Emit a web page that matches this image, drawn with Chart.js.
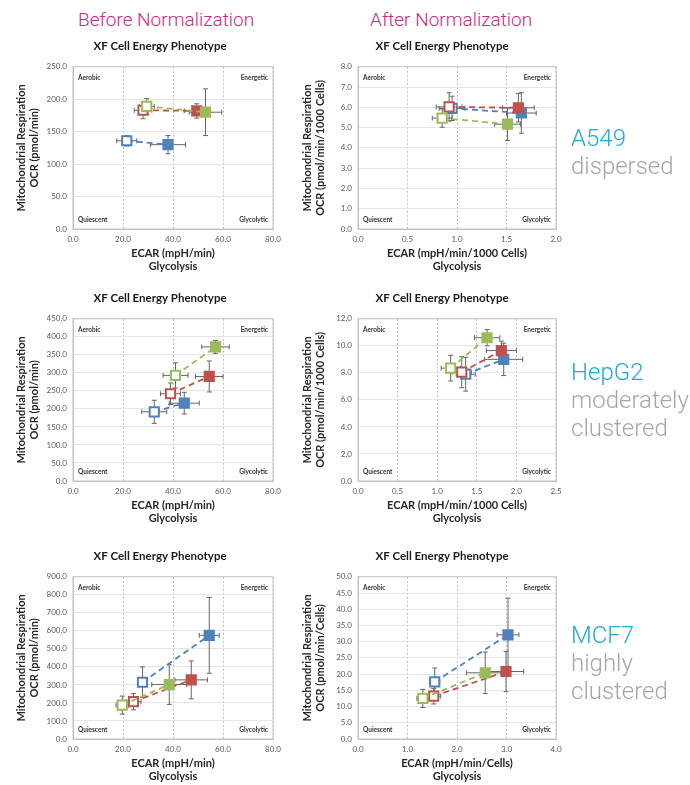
<!DOCTYPE html>
<html lang="en">
<head>
<meta charset="UTF-8">
<title>XF Cell Energy Phenotype</title>
<script src="https://cdn.jsdelivr.net/npm/chart.js@4.4.1/dist/chart.umd.min.js"></script>
<style>
    body { margin: 0; background: #fff; width: 690px; height: 785px; position: relative; overflow: hidden; font-family: Roboto, "Open Sans", sans-serif; }
    .panel { position: absolute; width: 290px; height: 239px; }
    .head { position: absolute; top: 8px; font-size: 19px; line-height: 23px; font-weight: 300; color: #d6247e; white-space: nowrap; }
    .cell { position: absolute; left: 571px; font-size: 24px; line-height: 28px; font-weight: 300; color: #a6a6a6; white-space: nowrap; }
    .cell .name { color: #1ea8e0; }
</style>
</head>
<body>
    <div class="head" style="left:78px">Before Normalization</div>
    <div class="head" style="left:370px">After Normalization</div>

    <div class="panel" style="left:0;top:35px"><canvas id="a549Before"></canvas></div>
    <div class="panel" style="left:285px;top:35px"><canvas id="a549After"></canvas></div>
    <div class="panel" style="left:0;top:287px"><canvas id="hepg2Before"></canvas></div>
    <div class="panel" style="left:285px;top:287px"><canvas id="hepg2After"></canvas></div>
    <div class="panel" style="left:0;top:545px"><canvas id="mcf7Before"></canvas></div>
    <div class="panel" style="left:285px;top:545px"><canvas id="mcf7After"></canvas></div>

    <div class="cell" style="top:124px"><div class="name">A549</div><div>dispersed</div></div>
    <div class="cell" style="top:358px"><div class="name">HepG2</div><div>moderately</div><div>clustered</div></div>
    <div class="cell" style="top:621px"><div class="name">MCF7</div><div>highly</div><div>clustered</div></div>

<script>
    // series order: blue, red, green; each pair = [baseline (open), stressed (filled)]
    const seriesNames = ['Series 1', 'Series 2', 'Series 3'];
    const seriesColors = ['#4f81bd', '#c0504d', '#9bbb59'];
    const quadrantLabels = ['Aerobic', 'Energetic', 'Quiescent', 'Glycolytic'];

    // A549 - before normalization
    const a549BeforeX = [[21.5, 38.0], [28.0, 49.5], [29.5, 53.0]];
    const a549BeforeY = [[136, 130], [183, 182], [189, 180]];
    const a549BeforeXErr = [[4, 7], [3.5, 5], [3, 6.5]];
    const a549BeforeYErr = [[8, 14], [13, 11], [12, 36]];

    // A549 - after normalization
    const a549AfterX = [[0.95, 1.65], [0.92, 1.62], [0.85, 1.51]];
    const a549AfterY = [[5.95, 5.72], [6.02, 5.98], [5.47, 5.17]];
    const a549AfterXErr = [[0.13, 0.15], [0.13, 0.16], [0.1, 0.13]];
    const a549AfterYErr = [[0.6, 1.0], [0.7, 0.7], [0.45, 0.8]];

    // HepG2 - before normalization
    const hepg2BeforeX = [[32.5, 44.5], [39.0, 54.5], [41.0, 57.0]];
    const hepg2BeforeY = [[192, 216], [242, 290], [293, 372]];
    const hepg2BeforeXErr = [[5, 6], [4, 5.5], [5, 5.5]];
    const hepg2BeforeYErr = [[32, 30], [30, 43], [35, 18]];

    // HepG2 - after normalization
    const hepg2AfterX = [[1.36, 1.84], [1.31, 1.81], [1.17, 1.63]];
    const hepg2AfterY = [[7.9, 9.0], [8.05, 9.65], [8.35, 10.6]];
    const hepg2AfterXErr = [[0.12, 0.24], [0.12, 0.19], [0.12, 0.16]];
    const hepg2AfterYErr = [[1.25, 1.2], [1.15, 0.7], [0.95, 0.6]];

    // MCF7 - before normalization
    const mcf7BeforeX = [[27.8, 54.5], [24.2, 47.3], [19.7, 38.5]];
    const mcf7BeforeY = [[315, 575], [207, 328], [188, 302]];
    const mcf7BeforeXErr = [[2, 4], [3, 6.5], [2.5, 7]];
    const mcf7BeforeYErr = [[85, 210], [45, 105], [50, 110]];

    // MCF7 - after normalization
    const mcf7AfterX = [[1.55, 3.03], [1.53, 2.99], [1.31, 2.57]];
    const mcf7AfterY = [[17.6, 32.1], [13.2, 20.8], [12.5, 20.4]];
    const mcf7AfterXErr = [[0.1, 0.22], [0.14, 0.36], [0.12, 0.38]];
    const mcf7AfterYErr = [[4.3, 11.3], [2.4, 6.2], [2.8, 6.4]];

    Chart.defaults.font.family = 'Lato, "Liberation Sans", Arial, sans-serif';
    Chart.defaults.color = '#595959';
    Chart.defaults.animation = false;

    // frame, error bars (behind the markers) and quadrant names
    const phenotypePlugin = {
        id: 'phenotype',
        beforeDatasetsDraw(chart) {
            const { ctx, chartArea: a, scales: { x, y } } = chart;
            ctx.save();
            ctx.strokeStyle = '#c4c4c4';
            ctx.lineWidth = 1;
            ctx.strokeRect(a.left, a.top, a.width, a.height);

            ctx.strokeStyle = '#666';
            ctx.lineWidth = 1;
            const cap = 2.5;
            chart.data.datasets.forEach(ds => {
                ds.data.forEach((p, j) => {
                    const px = x.getPixelForValue(p.x), py = y.getPixelForValue(p.y);
                    const x0 = x.getPixelForValue(p.x - ds.xErr[j]), x1 = x.getPixelForValue(p.x + ds.xErr[j]);
                    const y0 = y.getPixelForValue(p.y - ds.yErr[j]), y1 = y.getPixelForValue(p.y + ds.yErr[j]);
                    ctx.beginPath();
                    ctx.moveTo(x0, py); ctx.lineTo(x1, py);
                    ctx.moveTo(x0, py - cap); ctx.lineTo(x0, py + cap);
                    ctx.moveTo(x1, py - cap); ctx.lineTo(x1, py + cap);
                    ctx.moveTo(px, y0); ctx.lineTo(px, y1);
                    ctx.moveTo(px - cap, y0); ctx.lineTo(px + cap, y0);
                    ctx.moveTo(px - cap, y1); ctx.lineTo(px + cap, y1);
                    ctx.stroke();
                });
            });
            ctx.restore();
        },
        afterDatasetsDraw(chart) {
            const { ctx, chartArea: a } = chart;
            ctx.save();
            ctx.font = 'bold 6.5px Lato, sans-serif';
            ctx.fillStyle = '#333';
            ctx.textBaseline = 'middle';
            ctx.textAlign = 'left';
            ctx.fillText(quadrantLabels[0], a.left + 5, a.top + 11);
            ctx.fillText(quadrantLabels[2], a.left + 5, a.bottom - 9);
            ctx.textAlign = 'right';
            ctx.fillText(quadrantLabels[1], a.right - 5, a.top + 11);
            ctx.fillText(quadrantLabels[3], a.right - 5, a.bottom - 9);
            ctx.restore();
        }
    };

    function makeChart(id, X, Y, XErr, YErr, o) {
        const ctx = document.getElementById(id).getContext('2d');
        return new Chart(ctx, {
            type: 'scatter',
            data: {
                datasets: X.map((xs, i) => ({
                    label: seriesNames[i],
                    data: xs.map((v, j) => ({ x: v, y: Y[i][j] })),
                    xErr: XErr[i],
                    yErr: YErr[i],
                    showLine: true,
                    borderColor: seriesColors[i],
                    borderWidth: 1.8,
                    borderDash: [6, 4],
                    pointStyle: 'rect',
                    pointRadius: 6.5,
                    pointBorderWidth: 2,
                    pointBackgroundColor: ['#ffffff', seriesColors[i]],
                    pointBorderColor: seriesColors[i],
                    order: X.length - 1 - i
                }))
            },
            options: {
                responsive: true,
                maintainAspectRatio: false,
                layout: { padding: { left: o.padL, right: o.padR, top: 0, bottom: 0 } },
                plugins: {
                    legend: { display: false },
                    tooltip: { enabled: false },
                    title: {
                        display: true,
                        text: 'XF Cell Energy Phenotype',
                        color: '#1a1a1a',
                        font: { size: 11.5, weight: 'bold' },
                        padding: { top: 4, bottom: 14 }
                    }
                },
                scales: {
                    x: {
                        type: 'linear',
                        min: 0,
                        max: o.xMax,
                        ticks: { stepSize: o.xStep, padding: 6, font: { size: 8 }, callback: v => v.toFixed(1) },
                        grid: { color: '#bdbdbd', drawTicks: false },
                        border: { color: '#bfbfbf', dash: [2, 2] },
                        title: {
                            display: true,
                            text: [o.xTitle, 'Glycolysis'],
                            color: '#262626',
                            font: { size: 11, weight: 'bold' },
                            padding: { top: 0, bottom: 1 }
                        },
                        afterFit: s => { s.height = 45; }
                    },
                    y: {
                        min: 0,
                        max: o.yMax,
                        ticks: { stepSize: o.yStep, padding: 6, font: { size: 8 }, callback: v => v.toFixed(1) },
                        grid: { color: '#e6e6e6', drawTicks: false },
                        border: { color: '#bfbfbf' },
                        title: {
                            display: true,
                            text: ['Mitochondrial Respiration', o.yTitle],
                            color: '#262626',
                            font: { size: 11, weight: 'bold' },
                            padding: { top: o.yTitleX - o.padL - 7, bottom: 0 }
                        },
                        afterFit: s => { s.width = 73 - o.padL; }
                    }
                }
            },
            plugins: [phenotypePlugin]
        });
    }

    const leftSide = { padL: 47, padR: 17, yTitleX: 22, xMax: 80, xStep: 20, xTitle: 'ECAR (mpH/min)' };
    const rightSide = { padL: 43, padR: 19, yTitleX: 23 };

    makeChart('a549Before', a549BeforeX, a549BeforeY, a549BeforeXErr, a549BeforeYErr,
        { ...leftSide, yMax: 250, yStep: 50, yTitle: 'OCR (pmol/min)' });
    makeChart('a549After', a549AfterX, a549AfterY, a549AfterXErr, a549AfterYErr,
        { ...rightSide, xMax: 2, xStep: 0.5, yMax: 8, yStep: 1,
          xTitle: 'ECAR (mpH/min/1000 Cells)', yTitle: 'OCR (pmol/min/1000 Cells)' });
    makeChart('hepg2Before', hepg2BeforeX, hepg2BeforeY, hepg2BeforeXErr, hepg2BeforeYErr,
        { ...leftSide, yMax: 450, yStep: 50, yTitle: 'OCR (pmol/min)' });
    makeChart('hepg2After', hepg2AfterX, hepg2AfterY, hepg2AfterXErr, hepg2AfterYErr,
        { ...rightSide, xMax: 2.5, xStep: 0.5, yMax: 12, yStep: 2,
          xTitle: 'ECAR (mpH/min/1000 Cells)', yTitle: 'OCR (pmol/min/1000 Cells)' });
    makeChart('mcf7Before', mcf7BeforeX, mcf7BeforeY, mcf7BeforeXErr, mcf7BeforeYErr,
        { ...leftSide, yMax: 900, yStep: 100, yTitle: 'OCR (pmol/min)' });
    makeChart('mcf7After', mcf7AfterX, mcf7AfterY, mcf7AfterXErr, mcf7AfterYErr,
        { ...rightSide, xMax: 4, xStep: 1, yMax: 50, yStep: 5,
          xTitle: 'ECAR (mpH/min/Cells)', yTitle: 'OCR (pmol/min/Cells)' });
</script>
</body>
</html>
